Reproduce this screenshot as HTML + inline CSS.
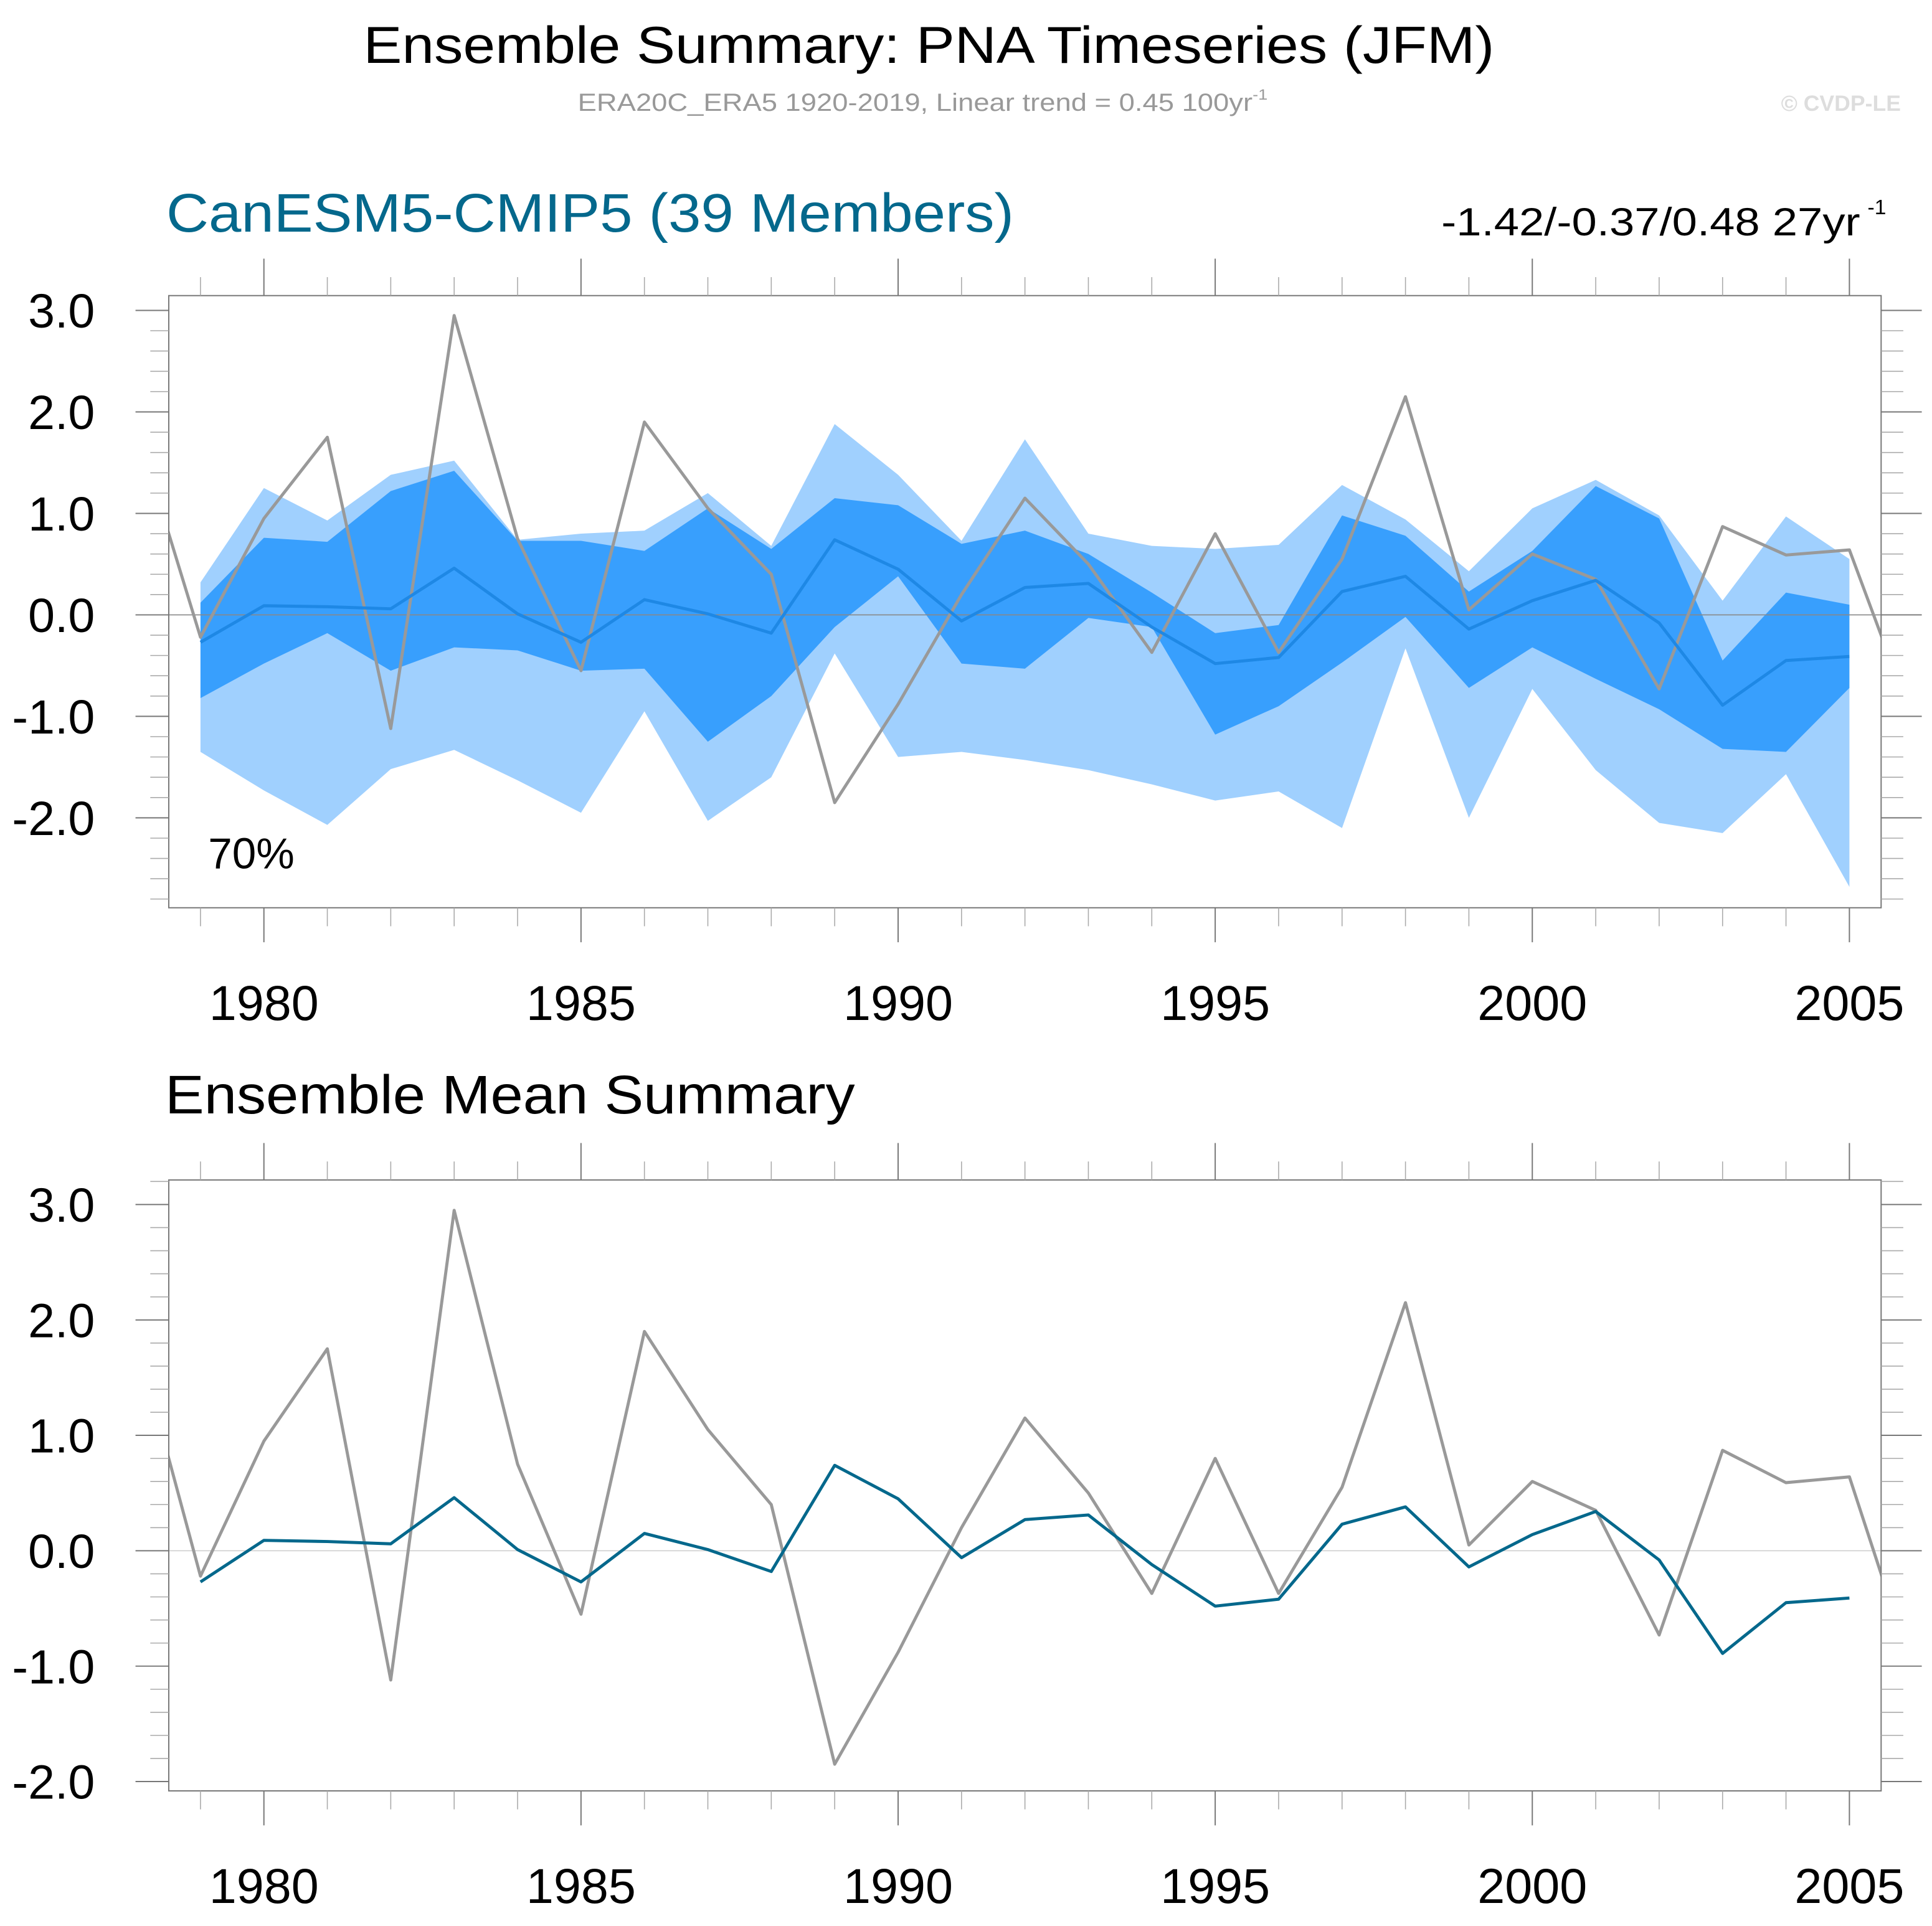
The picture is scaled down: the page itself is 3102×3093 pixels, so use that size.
<!DOCTYPE html>
<html><head><meta charset="utf-8"><style>
html,body{margin:0;padding:0;background:#fff;}
svg{display:block;font-family:"Liberation Sans",sans-serif;}
</style></head><body>
<svg id="chart" width="3102" height="3093" viewBox="0 0 1568.3 1563.7" preserveAspectRatio="none" xmlns="http://www.w3.org/2000/svg">
<text x="754" y="51" font-size="42" text-anchor="middle" textLength="918" lengthAdjust="spacingAndGlyphs">Ensemble Summary: PNA Timeseries (JFM)</text>
<text x="469" y="90" font-size="20" fill="#999" textLength="560" lengthAdjust="spacingAndGlyphs">ERA20C_ERA5 1920-2019, Linear trend = 0.45 100yr<tspan dy="-9" font-size="12">-1</tspan></text>
<text x="1543" y="90" font-size="18" font-weight="bold" fill="#ddd" text-anchor="end">© CVDP-LE</text>
<text x="135" y="188" font-size="44" fill="#04688c" textLength="688" lengthAdjust="spacingAndGlyphs">CanESM5-CMIP5 (39 Members)</text>
<text x="1170" y="191" font-size="32" textLength="340" lengthAdjust="spacingAndGlyphs">-1.42/-0.37/0.48 27yr</text>
<text x="1516" y="174" font-size="17">-1</text>
<text x="134" y="904" font-size="44" textLength="560" lengthAdjust="spacingAndGlyphs">Ensemble Mean Summary</text>
<g id="p1"></g>
<g id="p2"></g>
</svg>
<script>
const years = [1979,1980,1981,1982,1983,1984,1985,1986,1987,1988,1989,1990,1991,1992,1993,1994,1995,1996,1997,1998,1999,2000,2001,2002,2003,2004,2005];
const obsYears = [1978,1979,1980,1981,1982,1983,1984,1985,1986,1987,1988,1989,1990,1991,1992,1993,1994,1995,1996,1997,1998,1999,2000,2001,2002,2003,2004,2005,2006];
const obsValues = [1.82,-0.22,0.95,1.75,-1.12,2.95,0.75,-0.55,1.9,1.05,0.4,-1.85,-0.88,0.2,1.15,0.5,-0.37,0.8,-0.37,0.55,2.15,0.05,0.6,0.35,-0.73,0.87,0.59,0.64,-1.04];
const ensMean = [-0.27,0.09,0.08,0.06,0.46,0.01,-0.27,0.15,0.01,-0.18,0.74,0.45,-0.06,0.27,0.31,-0.12,-0.48,-0.42,0.23,0.38,-0.14,0.14,0.34,-0.08,-0.89,-0.45,-0.41];
const lightUpper = [0.32,1.25,0.93,1.38,1.52,0.74,0.8,0.83,1.2,0.68,1.88,1.38,0.73,1.73,0.8,0.68,0.65,0.69,1.28,0.94,0.43,1.05,1.33,0.98,0.14,0.97,0.55];
const lightLower = [-1.35,-1.73,-2.07,-1.52,-1.33,-1.63,-1.95,-0.95,-2.03,-1.6,-0.38,-1.4,-1.35,-1.43,-1.53,-1.67,-1.83,-1.74,-2.1,-0.33,-2.0,-0.73,-1.53,-2.05,-2.15,-1.57,-2.68];
const darkUpper = [0.12,0.76,0.72,1.22,1.42,0.73,0.73,0.63,1.05,0.65,1.15,1.08,0.7,0.83,0.6,0.22,-0.18,-0.1,0.98,0.78,0.23,0.63,1.27,0.95,-0.45,0.22,0.1];
const darkLower = [-0.82,-0.48,-0.18,-0.55,-0.32,-0.35,-0.55,-0.53,-1.25,-0.8,-0.12,0.38,-0.48,-0.53,-0.03,-0.12,-1.18,-0.9,-0.47,-0.02,-0.72,-0.32,-0.63,-0.93,-1.32,-1.35,-0.72];
const yTickLabels = ["3.0","2.0","1.0","0.0","-1.0","-2.0"];
const yTickValues = [3,2,1,0,-1,-2];
const xTickLabels = ["1980","1985","1990","1995","2000","2005"];
const xTickValues = [1980,1985,1990,1995,2000,2005];

const NS="http://www.w3.org/2000/svg";
function mk(parent,tag,attrs){const e=document.createElementNS(NS,tag);for(const k in attrs)e.setAttribute(k,attrs[k]);parent.appendChild(e);return e;}
const L=137,R=1527;
const xs=y=>L+(y-1978.5)/27*(R-L);

function panel(g,top,bot,ymax,ymin,withBands,meanColor,meanW){
  const ys=v=>top+(ymax-v)/(ymax-ymin)*(bot-top);
  const cid='clip'+top;
  const cp=mk(g,'clipPath',{id:cid});mk(cp,'rect',{x:L,y:top,width:R-L,height:bot-top});
  const plot=mk(g,'g',{'clip-path':'url(#'+cid+')'});
  if(withBands){
    const band=(u,l,fill,name)=>{
      let d=years.map((y,i)=>(i?'L':'M')+xs(y)+','+ys(u[i])).join('');
      for(let i=years.length-1;i>=0;i--)d+='L'+xs(years[i])+','+ys(l[i]);
      const p=mk(plot,'path',{d:d+'Z',fill:fill});
      
      
    };
    band(lightUpper,lightLower,'#a0d0fe','outer-range-band');
    band(darkUpper,darkLower,'#389ffd','inner-range-band');
  }
  const z=mk(plot,'line',{x1:L,x2:R,y1:ys(0),y2:ys(0),stroke:withBands?'#888':'#ccc','stroke-width':0.8});
  
  
  const ol=mk(plot,'polyline',{points:obsYears.map((y,i)=>xs(y)+','+ys(obsValues[i])).join(' '),fill:'none',stroke:'#999','stroke-width':2.5,'stroke-linejoin':'round'});
  
  
  const ml=mk(plot,'polyline',{points:years.map((y,i)=>xs(y)+','+ys(ensMean[i])).join(' '),fill:'none',stroke:meanColor,'stroke-width':meanW,'stroke-linejoin':'round'});
  
  
  const fr=mk(g,'rect',{x:L,y:top,width:R-L,height:bot-top,fill:'none',stroke:'#777','stroke-width':1});
  
  
  for(let v=Math.ceil(ymin*5)/5;v<=ymax+1e-9;v+=0.2){
    const vv=Math.round(v*5)/5, maj=Math.abs(vv-Math.round(vv))<1e-6;
    const y=ys(vv);
    mk(g,'line',{x1:maj?110:122,x2:L,y1:y,y2:y,stroke:maj?'#777':'#aaa','stroke-width':maj?1:0.8});
    mk(g,'line',{x1:R,x2:maj?1560:1545,y1:y,y2:y,stroke:maj?'#777':'#aaa','stroke-width':maj?1:0.8});
  }
  yTickValues.forEach((v,i)=>{
    if(v<ymin||v>ymax)return;
    const t=mk(g,'text',{x:77,y:ys(v)+14,'font-size':39,'text-anchor':'end'});
    t.textContent=yTickLabels[i];
    
    
  });
  years.forEach(y=>{
    const maj=y%5===0, x=xs(y);
    mk(g,'line',{x1:x,x2:x,y1:top-(maj?30:15),y2:top,stroke:maj?'#777':'#aaa','stroke-width':maj?1:0.8});
    mk(g,'line',{x1:x,x2:x,y1:bot,y2:bot+(maj?28:15),stroke:maj?'#777':'#aaa','stroke-width':maj?1:0.8});
  });
  xTickValues.forEach((v,i)=>{
    const t=mk(g,'text',{x:xs(v),y:bot+91,'font-size':40,'text-anchor':'middle'});
    t.textContent=xTickLabels[i];
    
    
  });
  return ys;
}
panel(document.getElementById('p1'),240,737,3.146,-2.886,true,'#1e88e5',2.5);
const pct=mk(document.getElementById('p1'),'text',{x:169,y:705,'font-size':35});
pct.textContent='70%';


panel(document.getElementById('p2'),958,1454,3.213,-2.081,false,'#04688c',2.5);
</script>
</body></html>
